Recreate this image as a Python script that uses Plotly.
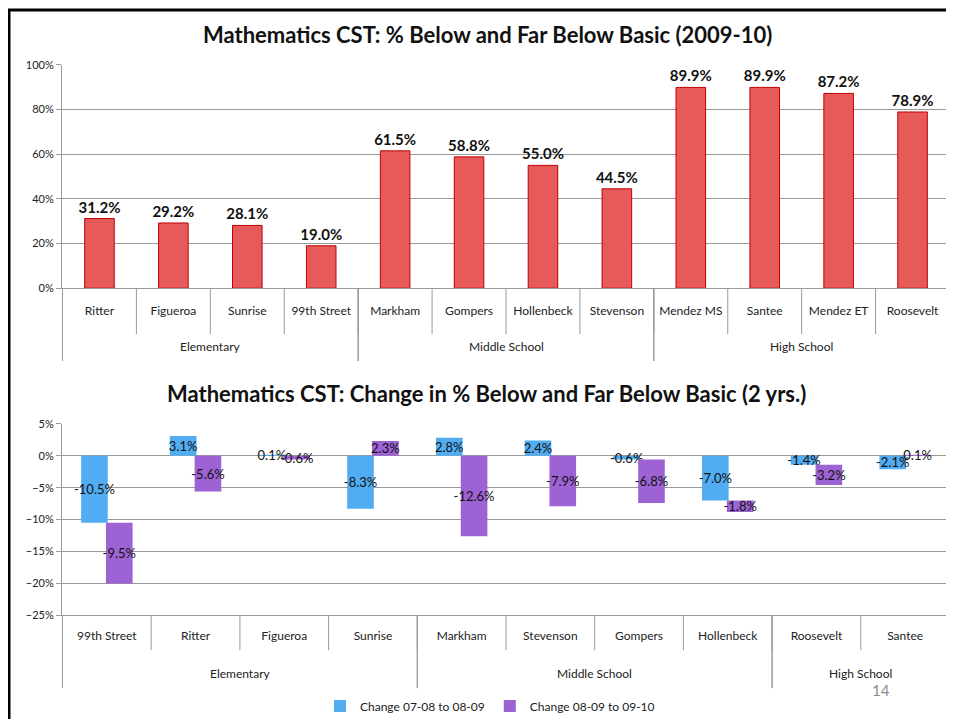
import plotly.graph_objects as go
from plotly.subplots import make_subplots

# top chart: % below and far below basic, 2009-10
top_levels = ["Elementary"] * 4 + ["Middle School"] * 4 + ["High School"] * 4
top_schools = ["Ritter", "Figueroa", "Sunrise", "99th Street",
               "Markham", "Gompers", "Hollenbeck", "Stevenson",
               "Mendez MS", "Santee", "Mendez ET", "Roosevelt"]
top_pct = [31.2, 29.2, 28.1, 19.0, 61.5, 58.8, 55.0, 44.5, 89.9, 89.9, 87.2, 78.9]

# bottom chart: change over two years (stacked)
bot_levels = ["Elementary"] * 4 + ["Middle School"] * 4 + ["High School"] * 2
bot_schools = ["99th Street", "Ritter", "Figueroa", "Sunrise",
               "Markham", "Stevenson", "Gompers", "Hollenbeck",
               "Roosevelt", "Santee"]
chg_0708_0809 = [-10.5, 3.1, 0.1, -8.3, 2.8, 2.4, -0.6, -7.0, -1.4, -2.1]
chg_0809_0910 = [-9.5, -5.6, -0.6, 2.3, -12.6, -7.9, -6.8, -1.8, -3.2, 0.1]

FONT = "Lato"
GRID = "#9a9a9a"
OFF = 8            # page body margin
W, H = 954 - OFF, 721 - OFF
L, R = 62 - OFF, 4

def px_y(p):
    return 1 - (p - OFF) / H

def px_x(p):
    return (p - OFF - L) / (W - L - R)

def groups(levels):
    out, start = [], 0
    for i in range(1, len(levels) + 1):
        if i == len(levels) or levels[i] != levels[start]:
            out.append((levels[start], start, i - 1))
            start = i
    return out

fig = make_subplots(rows=2, cols=1)

fig.add_trace(go.Bar(
    x=top_schools, y=top_pct,
    marker=dict(color="#e65a5a", line=dict(color="#c00000", width=1)),
    text=[f"{v:.1f}%" for v in top_pct], textposition="outside",
    textfont=dict(family=FONT, size=15, color="#111111", weight="bold"),
    cliponaxis=False, showlegend=False, width=0.4,
), row=1, col=1)

for vals, name, color, off in [(chg_0708_0809, "Change 07-08 to 08-09", "#52acf2", -0.29),
                               (chg_0809_0910, "Change 08-09 to 09-10", "#9d62d4", -0.01)]:
    fig.add_trace(go.Bar(
        x=bot_schools, y=vals, name=name,
        marker=dict(color=color), width=0.3, offset=off,
        text=[f"{v:.1f}%" for v in vals], textposition="inside",
        insidetextanchor="middle", textangle=0,
        insidetextfont=dict(family=FONT, size=13, color="#111111"),
    ), row=2, col=1)

fig.update_layout(
    template="none", width=W, height=H, barmode="relative",
    margin=dict(l=L, r=R, t=0, b=0),
    paper_bgcolor="white", plot_bgcolor="white",
    font=dict(family=FONT, size=11, color="#222222"),
    uniformtext=dict(minsize=13, mode="show"),
    legend=dict(orientation="h", x=px_x(490), xanchor="center",
                y=px_y(708), yanchor="middle", font=dict(size=12),
                itemwidth=30, bgcolor="rgba(0,0,0,0)"),
)

axis_x = dict(showgrid=False, showline=True, linecolor=GRID, linewidth=1,
              ticks="", tickfont=dict(size=12, color="#222222"), automargin=False)
axis_y = dict(showgrid=True, gridcolor=GRID, gridwidth=1, showline=True,
              linecolor=GRID, ticks="outside", ticklen=5, tickcolor=GRID,
              ticksuffix="%", zeroline=False, automargin=False,
              tickfont=dict(size=11, color="#222222"))

fig.update_xaxes(axis_x, ticklabelstandoff=11, domain=[0, 1], row=1, col=1)
fig.update_xaxes(axis_x, ticklabelstandoff=9, domain=[0, 1], row=2, col=1)
fig.update_yaxes(axis_y, range=[0, 100], dtick=20,
                 domain=[px_y(289), px_y(65)], row=1, col=1)
fig.update_yaxes(axis_y, range=[-25, 5], dtick=5, zeroline=True,
                 zerolinecolor=GRID, zerolinewidth=1,
                 domain=[px_y(617), px_y(425)], row=2, col=1)

# two-row category axis: school separators, group dividers and group names
for xref, levels, base in [("x", top_levels, 289), ("x2", bot_levels, 617)]:
    inner_len = 46 if xref == "x" else 35
    n = len(levels)
    for i in range(n - 1):
        fig.add_shape(type="line", xref=xref, yref="paper", x0=i + 0.5, x1=i + 0.5,
                      y0=px_y(base), y1=px_y(base + inner_len),
                      line=dict(color=GRID, width=1))
    for name, a, b in groups(levels):
        for edge in (a - 0.5, b + 0.5):
            fig.add_shape(type="line", xref=xref, yref="paper", x0=edge, x1=edge,
                          y0=px_y(base), y1=px_y(base + 73),
                          line=dict(color=GRID, width=1))
        fig.add_annotation(text=name, xref=xref, yref="paper", x=(a + b) / 2,
                           y=px_y(base + 58), xanchor="center", yanchor="middle",
                           showarrow=False, font=dict(family=FONT, size=12, color="#222222"))

fig.add_annotation(text="<b>Mathematics CST: % Below and Far Below Basic (2009-10)</b>",
                   xref="paper", yref="paper", x=px_x(487), y=px_y(35),
                   xanchor="center", yanchor="middle", showarrow=False,
                   font=dict(family=FONT, size=22, color="#111111"))
fig.add_annotation(text="<b>Mathematics CST: Change in % Below and Far Below Basic (2 yrs.)</b>",
                   xref="paper", yref="paper", x=px_x(486), y=px_y(395),
                   xanchor="center", yanchor="middle", showarrow=False,
                   font=dict(family=FONT, size=22, color="#111111"))
fig.add_annotation(text="14", xref="paper", yref="paper", x=px_x(881), y=px_y(692),
                   xanchor="center", yanchor="middle", showarrow=False,
                   font=dict(family=FONT, size=15, color="#8c8c8c"))

# slide frame
fig.add_shape(type="line", xref="paper", yref="paper", x0=px_x(8), x1=px_x(954),
              y0=px_y(10), y1=px_y(10), line=dict(color="black", width=3))
fig.add_shape(type="line", xref="paper", yref="paper", x0=px_x(9), x1=px_x(9),
              y0=px_y(9), y1=px_y(721), line=dict(color="black", width=3))

fig.write_html("out.html")
